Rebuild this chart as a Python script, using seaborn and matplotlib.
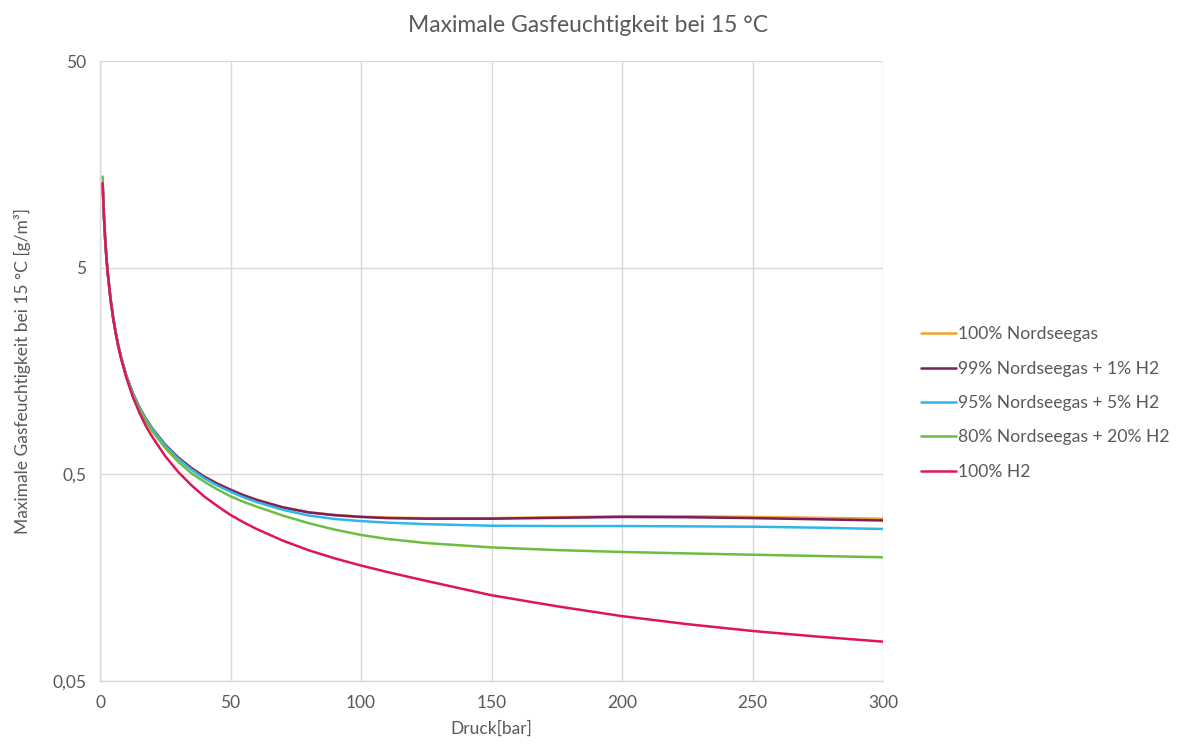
import matplotlib
matplotlib.use("Agg")
import matplotlib.pyplot as plt
import matplotlib.ticker as mticker
import pandas as pd
import seaborn as sns

# Pressure in bar
druck = [1, 1.5, 2, 2.5, 3, 4, 5, 6, 7, 8, 10, 12.5, 15, 17.5, 20, 25, 30, 35, 40, 45, 50,
         55, 60, 70, 80, 90, 100, 110, 125, 150, 175, 200, 225, 250, 275, 300]

# Maximum water content at 15 °C in g/m³
nordseegas = [12.8, 8.9, 6.8, 5.5, 4.67, 3.56, 2.88, 2.43, 2.1, 1.86, 1.51, 1.24, 1.06,
              0.931, 0.835, 0.696, 0.603, 0.537, 0.4875, 0.451, 0.422, 0.397, 0.377,
              0.347, 0.328, 0.318, 0.312, 0.309, 0.307, 0.307, 0.310, 0.3135, 0.3135,
              0.311, 0.308, 0.305]
ng99_h1 = [12.8, 8.9, 6.8, 5.5, 4.67, 3.56, 2.88, 2.43, 2.1, 1.86, 1.51, 1.24, 1.06,
           0.93, 0.834, 0.695, 0.602, 0.536, 0.486, 0.45, 0.421, 0.396, 0.376,
           0.346, 0.327, 0.317, 0.311, 0.307, 0.305, 0.305, 0.308, 0.311, 0.310,
           0.307, 0.303, 0.299]
ng95_h5 = [12.8, 8.9, 6.8, 5.5, 4.67, 3.56, 2.88, 2.43, 2.1, 1.86, 1.51, 1.24, 1.055,
           0.925, 0.83, 0.69, 0.595, 0.528, 0.478, 0.441, 0.412, 0.387, 0.367,
           0.337, 0.316, 0.304, 0.297, 0.292, 0.287, 0.282, 0.281, 0.281, 0.280,
           0.279, 0.276, 0.272]
ng80_h20 = [13.8, 8.9, 6.8, 5.48, 4.67, 3.55, 2.87, 2.42, 2.08, 1.85, 1.5, 1.22, 1.04,
            0.905, 0.81, 0.67, 0.575, 0.507, 0.46, 0.4225, 0.3915, 0.368, 0.349,
            0.316, 0.290, 0.270, 0.2545, 0.2435, 0.2325, 0.2215, 0.215, 0.2105, 0.2072,
            0.2042, 0.2013, 0.1985]
h2 = [12.8, 8.9, 6.8, 5.48, 4.67, 3.55, 2.87, 2.42, 2.08, 1.83, 1.48, 1.19, 1.0,
      0.86, 0.76, 0.612, 0.513, 0.443, 0.39, 0.351, 0.318, 0.293, 0.272,
      0.239, 0.2145, 0.196, 0.181, 0.1685, 0.1525, 0.130, 0.1150, 0.1030, 0.0942,
      0.0873, 0.0820, 0.0775]

serien = ["100% Nordseegas", "99% Nordseegas + 1% H2", "95% Nordseegas + 5% H2",
          "80% Nordseegas + 20% H2", "100% H2"]
farben = ["#F2A32A", "#7A1E5E", "#2DB6EA", "#6DBD42", "#E0145E"]

frames = []
for name, werte in zip(serien, [nordseegas, ng99_h1, ng95_h5, ng80_h20, h2]):
    frames.append(pd.DataFrame({"Druck": druck, "Wert": werte, "Gas": name}))
df = pd.concat(frames, ignore_index=True)

sns.set_theme(style="white")
plt.rcParams["font.family"] = ["Lato", "DejaVu Sans"]

fig = plt.figure(figsize=(11.83, 7.49), dpi=100)
ax = fig.add_axes([100 / 1183, 1 - 681 / 749, 783 / 1183, 620 / 749])

sns.lineplot(data=df, x="Druck", y="Wert", hue="Gas", hue_order=serien,
             palette=farben, linewidth=1.8, ax=ax, sort=False,
             solid_joinstyle="round", solid_capstyle="round")

ax.set_yscale("log")
ax.set_xlim(0, 300)
ax.set_ylim(0.05, 50)
ax.set_xticks([0, 50, 100, 150, 200, 250, 300])
ax.yaxis.set_major_locator(mticker.FixedLocator([0.05, 0.5, 5, 50]))
ax.yaxis.set_minor_locator(mticker.NullLocator())
ax.yaxis.set_major_formatter(
    mticker.FuncFormatter(lambda v, _: f"{v:g}".replace(".", ",")))

grau = "#595959"
ax.grid(True, color="#D9D9D9", linewidth=1)
ax.tick_params(axis="both", length=0, colors=grau, labelsize=12.5, pad=10)
for side in ["top", "right"]:
    ax.spines[side].set_visible(False)
for side in ["left", "bottom"]:
    ax.spines[side].set_color("#D9D9D9")
    ax.spines[side].set_linewidth(1)

ax.set_xlabel("Druck[bar]", color=grau, fontsize=12.5, labelpad=7)
ax.set_ylabel("Maximale Gasfeuchtigkeit bei 15 °C [g/m³]", color=grau, fontsize=12.5,
              labelpad=15)
fig.text(588 / 1183, 1 - 25 / 749, "Maximale Gasfeuchtigkeit bei 15 °C",
         ha="center", va="center", color=grau, fontsize=16.5)

leg = ax.legend(loc="center left", bbox_to_anchor=(921 / 1183, 1 - 403 / 749),
                bbox_transform=fig.transFigure, frameon=False,
                fontsize=12.6, handlelength=2.0, handletextpad=0.1, labelspacing=1.05,
                borderaxespad=0, borderpad=0)
for t in leg.get_texts():
    t.set_color(grau)

fig.savefig("out.png", dpi=100)
